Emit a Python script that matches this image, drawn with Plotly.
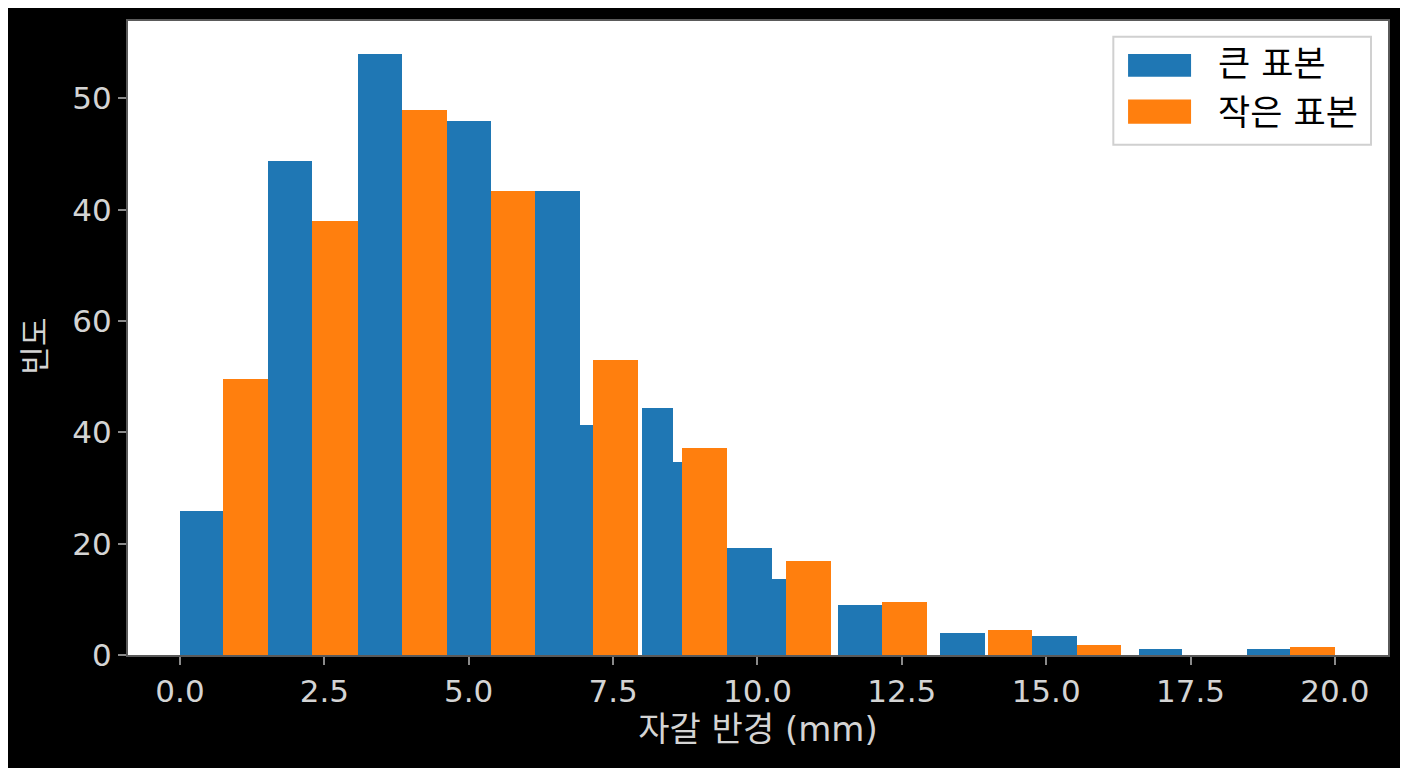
import plotly.graph_objects as go

# histogram bins (left edge, right edge, count)
big_lo = [0.0, 1.525, 3.08, 4.62, 6.15, 6.92, 8.0, 8.53, 9.48, 10.26, 11.39, 13.17, 14.76, 16.6, 18.48]
big_hi = [0.745, 2.29, 3.85, 5.39, 6.92, 7.16, 8.53, 8.70, 10.26, 10.5, 12.15, 13.94, 15.53, 17.35, 19.22]
big_cnt = [25.9, 88.8, 108, 96, 83.4, 41.3, 44.3, 34.6, 19.3, 13.6, 8.9, 3.9, 3.4, 1.1, 1.0]

small_lo = [0.745, 2.29, 3.85, 5.39, 7.16, 8.70, 10.5, 12.15, 13.99, 15.53, 19.22]
small_hi = [1.525, 3.08, 4.62, 6.15, 7.94, 9.48, 11.27, 12.93, 14.76, 16.29, 20.0]
small_cnt = [49.5, 78, 97.9, 83.4, 53, 37.1, 16.8, 9.6, 4.5, 1.8, 1.4]

ytick_vals = [0, 20, 40, 60, 80, 100]
ytick_text = ["0", "20", "40", "60", "40", "50"]
xtick_vals = [0, 2.5, 5, 7.5, 10, 12.5, 15, 17.5, 20]
xtick_text = ["0.0", "2.5", "5.0", "7.5", "10.0", "12.5", "15.0", "17.5", "20.0"]

names = ["큰 표본", "작은 표본"]
colors = ["#1f77b4", "#ff7f0e"]

FONT = "DejaVu Sans, Noto Sans CJK KR, sans-serif"


def centers(lo, hi):
    return [(a + b) / 2 for a, b in zip(lo, hi)]


def widths(lo, hi):
    return [b - a for a, b in zip(lo, hi)]


fig = go.Figure()
fig.add_trace(go.Bar(x=centers(big_lo, big_hi), y=big_cnt, width=widths(big_lo, big_hi),
                     name=names[0], marker=dict(color=colors[0], line=dict(width=0))))
fig.add_trace(go.Bar(x=centers(small_lo, small_hi), y=small_cnt, width=widths(small_lo, small_hi),
                     name=names[1], marker=dict(color=colors[1], line=dict(width=0))))

axis_common = dict(showgrid=False, zeroline=False, showline=True, linecolor="#5a5a5a",
                   linewidth=2, mirror=True, ticks="outside", ticklen=8, tickwidth=2,
                   tickcolor="#8a8a8a", tickfont=dict(family=FONT, size=31, color="#d4d4d4"))

fig.update_xaxes(range=[-0.9, 20.92], tickvals=xtick_vals, ticktext=xtick_text,
                 title=dict(text="자갈 반경 (mm)", font=dict(family=FONT, size=34, color="#d4d4d4"),
                            standoff=9),
                 **axis_common)
fig.update_yaxes(range=[0, 113.9], tickvals=ytick_vals, ticktext=ytick_text, **axis_common)

# y title placed by hand
fig.add_annotation(xref="paper", yref="paper", x=-0.0735, y=0.487, text="빈도", textangle=-90,
                   showarrow=False, xanchor="center", yanchor="middle",
                   font=dict(family=FONT, size=31, color="#d4d4d4"))

# legend box drawn by hand so the swatches look like matplotlib's
fig.add_shape(type="rect", xref="paper", yref="paper", x0=0.782, x1=0.9865, y0=0.805, y1=0.975,
              line=dict(color="#d0d0d0", width=2), fillcolor="white")
sw_y = [(0.912, 0.948), (0.838, 0.876)]
txt_y = [0.932, 0.855]
for i in range(2):
    fig.add_shape(type="rect", xref="paper", yref="paper", x0=0.7937, x1=0.8437,
                  y0=sw_y[i][0], y1=sw_y[i][1], line=dict(width=0), fillcolor=colors[i])
    fig.add_annotation(xref="paper", yref="paper", x=0.8635, y=txt_y[i], text=names[i],
                       showarrow=False, xanchor="left", yanchor="middle",
                       font=dict(family=FONT, size=35, color="black"))

# the page puts the figure 8px in from the corner, so margins are shifted to match
fig.update_layout(width=1408, height=768, paper_bgcolor="black", plot_bgcolor="white",
                  barmode="overlay", bargap=0, showlegend=False,
                  margin=dict(l=120, r=28, t=11, b=121))

fig.write_html("out.html")
